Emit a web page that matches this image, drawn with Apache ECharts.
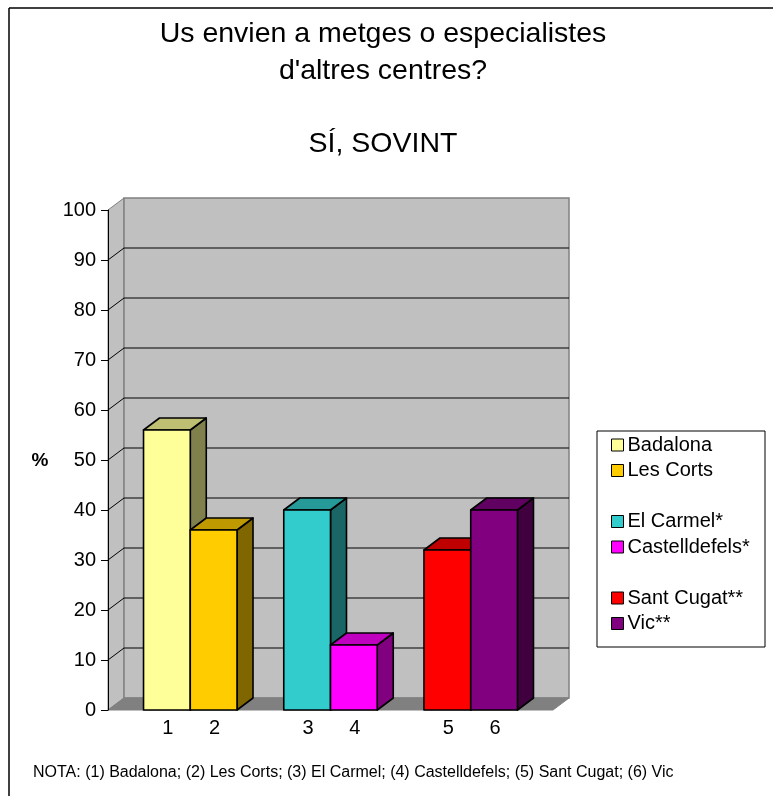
<!DOCTYPE html>
<html><head><meta charset="utf-8">
<script src="https://cdn.jsdelivr.net/npm/echarts/dist/echarts.min.js"></script>
<style>html,body{margin:0;padding:0;background:#fff}#c{width:773px;height:796px}</style>
</head><body><div id="c"></div>
<script>
const titleLines = ['Us envien a metges o especialistes', "d'altres centres?", '', 'SÍ, SOVINT'];
const categories = ['1', '2', '3', '4', '5', '6'];
const centres = ['Badalona', 'Les Corts', 'El Carmel*', 'Castelldefels*', 'Sant Cugat**', 'Vic**'];
const values = [56, 36, 40, 13, 32, 40];
const colors = ['#FFFF99', '#FFCC00', '#33CCCC', '#FF00FF', '#FF0000', '#800080'];
const yTicks = [0, 10, 20, 30, 40, 50, 60, 70, 80, 90, 100];
const yAxisName = '%';
const note = 'NOTA: (1) Badalona; (2) Les Corts; (3) El Carmel; (4) Castelldefels; (5) Sant Cugat; (6) Vic';

const FONT = '"Liberation Sans", Arial, Helvetica, sans-serif';
const DX = 16, DY = -12;
const XMIN = -1.26, XMAX = 8.26;

function shade(hex, f) {
  const n = parseInt(hex.slice(1), 16);
  const r = Math.round(((n >> 16) & 255) * f), g = Math.round(((n >> 8) & 255) * f), b = Math.round((n & 255) * f);
  return 'rgb(' + r + ',' + g + ',' + b + ')';
}
const off = pt => [pt[0] + DX, pt[1] + DY];

const wallSeries = {
  type: 'custom', silent: true, z: 1,
  data: [[0, 0]],
  renderItem: function (params, api) {
    const p = (x, y) => api.coord([x, y]);
    const top = yTicks[yTicks.length - 1];
    const bl = p(XMIN, 0), tl = p(XMIN, top), br = p(XMAX, 0), tr = p(XMAX, top);
    const children = [
      { type: 'polygon', shape: { points: [bl, tl, off(tl), off(bl)] }, style: { fill: '#C0C0C0', stroke: '#808080', lineWidth: 1 } },
      { type: 'polygon', shape: { points: [off(bl), off(tl), off(tr), off(br)] }, style: { fill: '#C0C0C0', stroke: '#808080', lineWidth: 1.5 } },
      { type: 'polygon', shape: { points: [bl, br, off(br), off(bl)] }, style: { fill: '#808080', stroke: '#808080', lineWidth: 1 } }
    ];
    yTicks.forEach(v => {
      if (v === 0 || v === top) return;
      const a = p(XMIN, v), b = p(XMAX, v);
      children.push({ type: 'line', shape: { x1: off(a)[0], y1: off(a)[1], x2: off(b)[0], y2: off(b)[1] }, style: { stroke: '#000', lineWidth: 1 } });
      children.push({ type: 'line', shape: { x1: a[0], y1: a[1], x2: off(a)[0], y2: off(a)[1] }, style: { stroke: '#000', lineWidth: 1 } });
    });
    return { type: 'group', children: children };
  }
};

const barSeries = centres.map((name, i) => ({
  type: 'custom', name: name, z: 2,
  itemStyle: { color: colors[i] },
  data: [[i + Math.floor(i / 2), values[i]]],
  renderItem: function (params, api) {
    const s = api.value(0), v = api.value(1);
    const A = api.coord([s - 0.5, v]), B = api.coord([s + 0.5, v]), C = api.coord([s + 0.5, 0]), D = api.coord([s - 0.5, 0]);
    const M = api.coord([s, 0]);
    const st = { stroke: '#000', lineWidth: 1.6, lineJoin: 'round' };
    return {
      type: 'group', children: [
        { type: 'polygon', shape: { points: [B, C, off(C), off(B)] }, style: Object.assign({ fill: shade(colors[i], 0.5) }, st) },
        { type: 'polygon', shape: { points: [A, B, off(B), off(A)] }, style: Object.assign({ fill: shade(colors[i], 0.75) }, st) },
        { type: 'polygon', shape: { points: [A, B, C, D] }, style: Object.assign({ fill: colors[i] }, st) },
        { type: 'text', style: { text: categories[i], x: M[0] + 1, y: M[1] + 18, align: 'center', verticalAlign: 'middle', fill: '#000', font: '20px ' + FONT } }
      ]
    };
  }
}));

function legendBlock(names, top) {
  return {
    data: names, orient: 'vertical', left: 611, top: top, padding: 0, itemGap: 5.5,
    itemWidth: 12, itemHeight: 12, icon: 'rect', selectedMode: false,
    itemStyle: { borderColor: '#000', borderWidth: 1 },
    textStyle: { fontSize: 20, lineHeight: 20, color: '#000', fontFamily: FONT, padding: [0, 0, 0, -1] }
  };
}

const chart = echarts.init(document.getElementById('c'), null, { renderer: 'canvas' });
chart.setOption({
  animation: false,
  backgroundColor: '#fff',
  grid: { left: 108, top: 210, width: 445, height: 500 },
  xAxis: { type: 'value', min: XMIN, max: XMAX, show: false },
  yAxis: {
    type: 'value', min: 0, max: 100, interval: 10,
    axisLine: { show: true, onZero: false, lineStyle: { color: '#000', width: 1 } },
    axisTick: { show: true, length: 7, lineStyle: { color: '#000' } },
    axisLabel: { fontSize: 20, color: '#000', margin: 12, fontFamily: FONT },
    splitLine: { show: false }, z: 5
  },
  legend: [legendBlock(centres.slice(0, 2), 435), legendBlock(centres.slice(2, 4), 511.5), legendBlock(centres.slice(4, 6), 588)],
  graphic: [
    { type: 'line', shape: { x1: 9, y1: 8, x2: 9, y2: 796 }, style: { stroke: '#000', lineWidth: 1.5 } },
    { type: 'line', shape: { x1: 9, y1: 8, x2: 773, y2: 8 }, style: { stroke: '#000', lineWidth: 1.5 } },
    { type: 'text', style: { text: titleLines.join('\n'), x: 383, y: 16, align: 'center', verticalAlign: 'top', font: '28.5px ' + FONT, lineHeight: 36.5, fill: '#000' } },
    { type: 'text', style: { text: yAxisName, x: 40, y: 461, align: 'center', verticalAlign: 'middle', font: 'bold 19px ' + FONT, fill: '#000' } },
    { type: 'rect', shape: { x: 597, y: 431, width: 168, height: 216 }, style: { fill: 'none', stroke: '#000', lineWidth: 1 } },
    { type: 'text', style: { text: note, x: 33, y: 773, align: 'left', verticalAlign: 'middle', font: '16px ' + FONT, fill: '#000' } }
  ],
  series: [wallSeries].concat(barSeries)
});
</script>
</body></html>
